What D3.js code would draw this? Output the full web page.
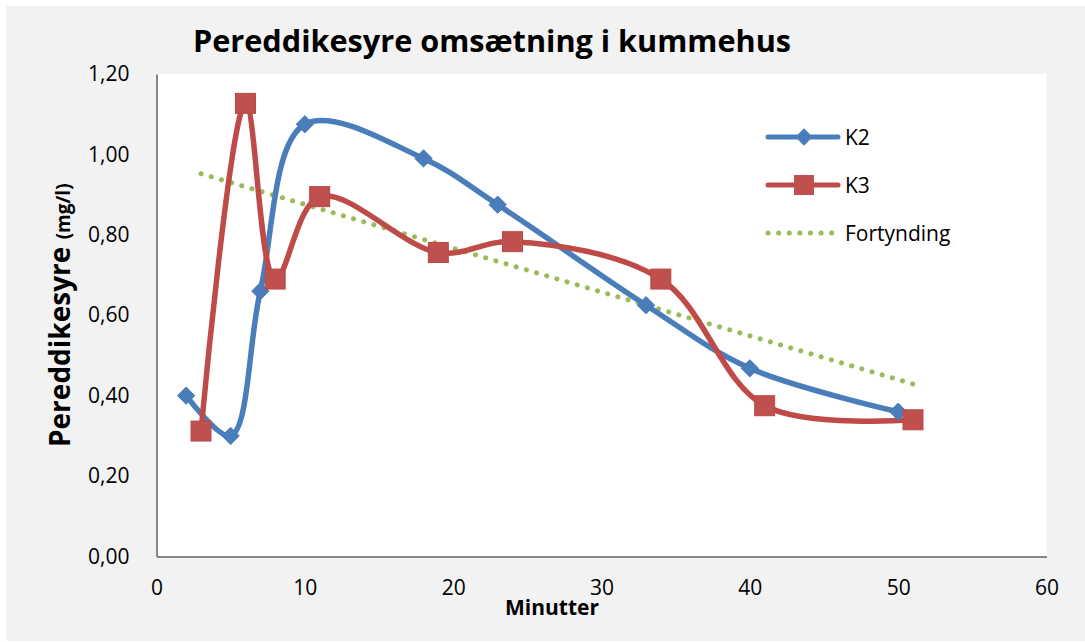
<!DOCTYPE html>
<html lang="da">
<head>
<meta charset="utf-8">
<title>Pereddikesyre omsætning i kummehus</title>
<script src="https://d3js.org/d3.v7.min.js"></script>
<style>
  body { margin: 0; background: #fff; }
  svg { display: block; font-family: "Open Sans", "Noto Sans", sans-serif; }
  .tick text { fill: #000; }
</style>
</head>
<body>
<script>
// K2 and K3 measurements (minutes, mg/l)
var k2Min = [2, 5, 7, 10, 18, 23, 33, 40, 50];
var k2Val = [0.40, 0.30, 0.66, 1.075, 0.99, 0.875, 0.625, 0.468, 0.36];
var k3Min = [3, 6, 8, 11, 19, 24, 34, 41, 51];
var k3Val = [0.312, 1.127, 0.69, 0.895, 0.756, 0.783, 0.69, 0.375, 0.34];
// dilution line
var fortMin = [3, 51];
var fortVal = [0.952, 0.429];

var xTicks = [0, 10, 20, 30, 40, 50, 60];
var yTicks = [0, 0.2, 0.4, 0.6, 0.8, 1.0, 1.2];

var w = 1085, h = 642;
var pLeft = 156.5, pRight = 1046.5, pTop = 74, pBottom = 556.5;

var svg = d3.select("body").append("svg")
    .attr("width", w)
    .attr("height", h);

// chart background
svg.append("rect")
    .attr("x", 6).attr("y", 6)
    .attr("width", w - 6).attr("height", h - 7)
    .attr("fill", "#f2f2f2");

svg.append("rect")
    .attr("x", pLeft).attr("y", pTop)
    .attr("width", pRight - pLeft).attr("height", pBottom - pTop)
    .attr("fill", "#fff");

var x = d3.scaleLinear().domain([0, 60]).range([pLeft, pRight]);
var y = d3.scaleLinear().domain([0, 1.2]).range([pBottom, pTop]);

var fmt = function (d) { return d3.format(".2f")(d).replace(".", ","); };

var xAxis = svg.append("g")
    .attr("transform", "translate(0," + pBottom + ")")
    .call(d3.axisBottom(x).tickValues(xTicks).tickSize(0).tickPadding(24));
xAxis.attr("font-size", 21).attr("font-family", null);
xAxis.select(".domain").attr("stroke", "#868686").attr("stroke-width", 2);

var yAxis = svg.append("g")
    .attr("transform", "translate(" + pLeft + ",0)")
    .call(d3.axisLeft(y).tickValues(yTicks).tickFormat(fmt).tickSize(0).tickPadding(27));
yAxis.attr("font-size", 21).attr("font-family", null);
yAxis.select(".domain").attr("stroke", "#868686").attr("stroke-width", 2);

// title
svg.append("text")
    .attr("x", 492).attr("y", 52)
    .attr("text-anchor", "middle")
    .attr("font-size", 30)
    .attr("font-weight", "bold")
    .attr("textLength", 598)
    .attr("lengthAdjust", "spacingAndGlyphs")
    .text("Pereddikesyre omsætning i kummehus");

// axis titles
var yl = svg.append("text")
    .attr("transform", "translate(70,447) rotate(-90)")
    .attr("font-weight", "bold");
yl.append("tspan").attr("font-size", 28).text("Pereddikesyre ");
yl.append("tspan").attr("font-size", 19).text("(mg/l)");

svg.append("text")
    .attr("x", 552).attr("y", 615)
    .attr("text-anchor", "middle")
    .attr("font-size", 21)
    .attr("font-weight", "bold")
    .text("Minutter");

var plot = svg.append("g");

var smooth = d3.line()
    .x(function (d) { return x(d[0]); })
    .y(function (d) { return y(d[1]); })
    .curve(d3.curveCatmullRom.alpha(0.5));

var straight = d3.line()
    .x(function (d) { return x(d[0]); })
    .y(function (d) { return y(d[1]); });

var fortData = d3.zip(fortMin, fortVal);
var k2Data = d3.zip(k2Min, k2Val);
var k3Data = d3.zip(k3Min, k3Val);

plot.append("path")
    .attr("d", straight(fortData))
    .attr("fill", "none")
    .attr("stroke", "#9bbb59")
    .attr("stroke-width", 5)
    .attr("stroke-linecap", "round")
    .attr("stroke-dasharray", "0.1 10.5");

plot.append("path")
    .attr("d", smooth(k2Data))
    .attr("fill", "none")
    .attr("stroke", "#4a7ebb")
    .attr("stroke-width", 5.5)
    .attr("stroke-linecap", "round");

plot.append("path")
    .attr("d", smooth(k3Data))
    .attr("fill", "none")
    .attr("stroke", "#be4b48")
    .attr("stroke-width", 5.5)
    .attr("stroke-linecap", "round");

var diamond = d3.symbol().type(d3.symbolDiamond2).size(190);

plot.selectAll(".k2pt").data(k2Data).enter().append("path")
    .attr("class", "k2pt")
    .attr("d", diamond)
    .attr("transform", function (d) { return "translate(" + x(d[0]) + "," + y(d[1]) + ")"; })
    .attr("fill", "#4a7ebb")
    .attr("stroke", "#4677b5")
    .attr("stroke-width", 1);

plot.selectAll(".k3pt").data(k3Data).enter().append("rect")
    .attr("class", "k3pt")
    .attr("x", function (d) { return x(d[0]) - 10; })
    .attr("y", function (d) { return y(d[1]) - 10; })
    .attr("width", 20).attr("height", 20)
    .attr("fill", "#c0504d")
    .attr("stroke", "#b94a47")
    .attr("stroke-width", 1);

// legend
var legend = [
  { name: "K2", color: "#4a7ebb", mark: "diamond", dash: null },
  { name: "K3", color: "#be4b48", mark: "square", dash: null },
  { name: "Fortynding", color: "#9bbb59", mark: null, dash: "0.1 10.5" }
];
var lg = svg.append("g").attr("transform", "translate(768,137)");
legend.forEach(function (d, i) {
  var g = lg.append("g").attr("transform", "translate(0," + (i * 48) + ")");
  g.append("line")
    .attr("x1", 0).attr("x2", 70).attr("y1", 0).attr("y2", 0)
    .attr("stroke", d.color).attr("stroke-width", 5)
    .attr("stroke-linecap", "round")
    .attr("stroke-dasharray", d.dash);
  if (d.mark === "diamond") {
    g.append("path").attr("d", diamond).attr("transform", "translate(36,0)")
      .attr("fill", d.color);
  } else if (d.mark === "square") {
    g.append("rect").attr("x", 26).attr("y", -10).attr("width", 20).attr("height", 20)
      .attr("fill", "#c0504d");
  }
  g.append("text")
    .attr("x", 77).attr("y", 8)
    .attr("font-size", 21)
    .text(d.name);
});
</script>
</body>
</html>
